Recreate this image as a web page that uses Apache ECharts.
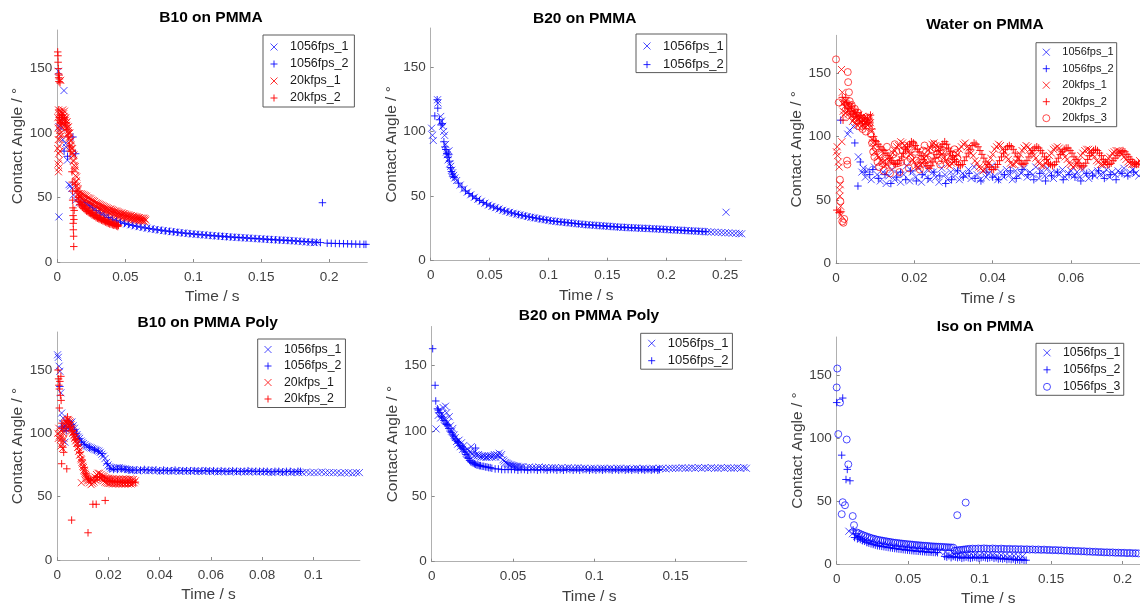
<!DOCTYPE html>
<html><head><meta charset="utf-8">
<script src="https://cdn.jsdelivr.net/npm/echarts@6/dist/echarts.min.js"></script>
<style>html,body{margin:0;padding:0;background:#fff}#c{width:1140px;height:608px}</style>
</head><body><div id="c"></div>
<script>
// ---------- tick / axis data ----------
const titles = ['B10 on PMMA','B20 on PMMA','Water on PMMA','B10 on PMMA Poly','B20 on PMMA Poly','Iso on PMMA'];
const xMax = [0.228, 0.264, 0.0776, 0.1182, 0.1937, 0.2121];
const xInterval = [0.05, 0.05, 0.02, 0.02, 0.05, 0.05];
const yMax = 180, yInterval = 50;
const xName = 'Time / s', yName = 'Contact Angle / °';

// ---------- B10 on PMMA ----------
const tl_1056fps_1 = [[0.0012,35],[0.0008,148],[0.0012,105],[0.003,104],[0.004,95],[0.0049,133],[0.0062,92],[0.0066,89],[0.0074,79],[0.0086,60],[0.0096,59],[0.0106,57],[0.0118,52],[0.0135,48],[0.016,46],[0.018,46],
[0.0195,47],[0.022,45],[0.0245,43],[0.027,41],[0.030,39],[0.033,37],[0.036,35.5],[0.039,34],[0.042,32.5],[0.045,31.5],[0.048,30.5],[0.051,29.5],[0.054,28.8],[0.057,28],[0.060,27.4],[0.063,26.8],[0.066,26.3],[0.069,25.7],[0.072,25.2],[0.075,24.8],[0.078,24.3],[0.081,24],[0.084,23.5],[0.087,23.2],[0.090,22.8],[0.093,22.5],[0.096,22.1],[0.099,21.8],[0.102,21.5],[0.105,21.3],[0.108,21],[0.111,20.7],[0.114,20.5],[0.117,20.2],[0.120,20],[0.123,19.8],[0.126,19.5],[0.129,19.3],[0.132,19.1],[0.135,18.9],[0.138,18.7],[0.141,18.5],[0.144,18.3],[0.147,18.1],[0.150,17.9],[0.153,17.7],[0.156,17.5],[0.159,17.3],[0.162,17.1],[0.165,17],[0.168,16.8],[0.171,16.6],[0.174,16.4],[0.177,16.2],[0.180,15.8],[0.183,15.5],[0.186,15.2],[0.189,15],[0.191,15.3]];
const tl_1056fps_2 = [[0.0115,97],[0.0135,84],[0.005,86],[0.0035,112],[0.0075,82],
[0.0205,46],[0.0235,44],[0.026,42],[0.0285,40],[0.0315,38],[0.0345,36.5],[0.0375,34.5],[0.0405,33.2],[0.0435,32],[0.0465,31],[0.0495,30],[0.0525,29.2],[0.0555,28.4],[0.0585,27.7],[0.0615,27.1],[0.0645,26.5],[0.0675,26],[0.0705,25.5],[0.0735,25],[0.0765,24.6],[0.0795,24.1],[0.0825,23.8],[0.0855,23.4],[0.0885,23],[0.0915,22.6],[0.0945,22.3],[0.0975,22],[0.1005,21.7],[0.1035,21.4],[0.1065,21.1],[0.1095,20.9],[0.1125,20.6],[0.1155,20.3],[0.1185,20.1],[0.1215,19.9],[0.1245,19.6],[0.1275,19.4],[0.1305,19.2],[0.1335,19],[0.1365,18.8],[0.1395,18.6],[0.1425,18.4],[0.1455,18.2],[0.1485,18],[0.1515,17.8],[0.1545,17.6],[0.1575,17.4],[0.1605,17.2],[0.1635,17],[0.1665,16.9],[0.1695,16.7],[0.1725,16.5],[0.1755,16.3],[0.1785,16.1],[0.1815,15.9],[0.1845,15.7],[0.1875,15.5],[0.1905,15.3],[0.1935,15.1],[0.195,46],[0.1985,14.6],[0.2015,14.5],[0.2045,14.4],[0.2075,14.3],[0.2105,14.2],[0.2135,14.1],[0.2165,14],[0.2195,13.9],[0.2225,13.8],[0.2255,13.7],[0.227,13.7]];
const tl_20kfps_1 = [[0.0003,88],[0.0004,112],[0.0005,76],[0.0006,104],[0.0007,95],[0.0008,70],[0.0009,118],[0.001,84],[0.0011,108],[0.0012,73],[0.0013,99],[0.0014,115],[0.0015,90],[0.0016,79],[0.0017,110],[0.0018,102],[0.0019,86],[0.002,117],[0.0021,95],[0.0022,106],[0.0023,112],[0.0024,100],[0.0025,141],[0.0026,108],[0.0027,114],[0.0028,98],[0.003,110],[0.0032,105],[0.0034,116],[0.0036,111],[0.0038,107],[0.004,118],[0.0042,112],[0.0044,108],[0.0046,115],[0.0048,110],
[0.005,113],[0.00525,117],[0.0055,111],[0.00575,106],[0.006,110],[0.00625,112],[0.0065,108],[0.00675,104],[0.007,106],[0.00725,109],[0.0075,104],[0.00775,100],[0.008,102],[0.00825,105],[0.0085,100],[0.00875,96],[0.009,97],[0.00925,100],[0.0095,94],[0.00975,90],[0.01,91],[0.01025,94],[0.0105,88],[0.01075,84],[0.011,85],[0.01125,88],[0.0115,82],[0.01175,78],[0.012,79],[0.01225,83],[0.0125,75],[0.01275,72],[0.013,71],[0.01325,74],[0.0135,67],[0.01375,62],[0.014,63],[0.01425,66],[0.0145,59],[0.01475,55],[0.015,56],[0.01525,57],[0.0155,53],[0.01575,49],[0.016,51],[0.01625,53],[0.0165,50.5],[0.017,51],
[0.0175,53],[0.018,49],[0.0185,52.5],[0.019,48.5],[0.0195,52],[0.02,48],[0.0205,51.5],[0.021,48],[0.0215,51],[0.022,47],[0.0225,50],[0.023,46.5],[0.0235,49.5],[0.024,46],[0.0245,49],[0.025,45],[0.0255,48],[0.026,44.5],[0.0265,47.5],[0.027,44],[0.0275,47],[0.028,43.5],[0.0285,46],[0.029,43],[0.0295,45.5],[0.03,42],[0.0305,45],[0.031,41.5],[0.0315,44.5],[0.032,41],[0.0325,44],[0.033,40.5],[0.0335,43.5],[0.034,40],[0.0345,43],[0.035,40],[0.0355,42.5],[0.036,39.5],[0.0365,42],[0.037,39],[0.0375,41.5],[0.038,38.5],[0.0385,41],[0.039,38],[0.0395,41],[0.04,38],[0.0405,40.5],[0.041,37.5],[0.0415,40],[0.042,37],[0.0425,39.5],[0.043,36.5],[0.0435,39.5],[0.044,36.5],[0.0445,39],[0.045,36],[0.0455,38.5],[0.046,35.5],[0.0465,38],[0.047,35.5],[0.0475,38],[0.048,35],[0.0485,37.5],[0.049,35],[0.0495,37.5],[0.05,34.5],[0.0505,37],[0.051,34.5],[0.0515,36.5],[0.052,34],[0.0525,36.5],[0.053,34],[0.0535,36],[0.054,33.5],[0.0545,36],[0.055,33.5],[0.0555,35.5],[0.056,33],[0.0565,35.5],[0.057,33],[0.0575,35],[0.058,32.5],[0.0585,35],[0.059,32.5],[0.0595,34.5],[0.06,32.5],[0.0605,34.5],[0.061,32],[0.0615,34],[0.062,32],[0.0625,34],[0.063,32],[0.0635,34],[0.064,31.5],[0.0645,33.5],[0.065,32.5]];
const tl_20kfps_2 = [[0.0003,163],[0.0005,160],[0.0006,155],[0.0008,150],[0.0009,146],[0.001,143],[0.0012,140],[0.0014,145],[0.0016,142],[0.002,139],[0.001,118],[0.0015,112],[0.0025,108],[0.0035,114],
[0.005,112],[0.006,108],[0.007,103],[0.008,97],[0.009,90],[0.0095,86],[0.0108,70],[0.011,62],[0.0112,55],[0.0113,48],[0.0115,42],[0.0116,36],[0.0117,30],[0.0118,25],[0.012,20],[0.0121,12],[0.0122,33],[0.0124,40],[0.0135,60],[0.0145,55],[0.0155,50],
[0.016,47],[0.0165,44.5],[0.017,46],[0.0175,43.5],[0.018,45],[0.0185,42.5],[0.019,44],[0.0195,41.5],[0.02,43],[0.0205,40.5],[0.021,42],[0.0215,39.5],[0.022,41],[0.0225,39],[0.023,40],[0.0235,38],[0.024,39.5],[0.0245,37.5],[0.025,38.5],[0.0255,36.5],[0.026,38],[0.0265,36],[0.027,37],[0.0275,35.5],[0.028,36.5],[0.0285,34.5],[0.029,36],[0.0295,34],[0.03,35],[0.0305,33.5],[0.031,34.5],[0.0315,33],[0.032,34],[0.0325,32.5],[0.033,33.5],[0.0335,32],[0.034,33],[0.0345,31.5],[0.035,32.5],[0.0355,31],[0.036,32],[0.0365,30.5],[0.037,31.5],[0.0375,30],[0.038,31],[0.0385,29.5],[0.039,31],[0.0395,29.5],[0.04,30.5],[0.0405,29],[0.041,30],[0.0415,28.5],[0.042,29.5],[0.0425,28.5],[0.043,29.5],[0.0435,28],[0.044,29],[0.0445,27.5],[0.045,28.5]];

// ---------- B20 on PMMA ----------
const tm_1056fps_1 = [[0.0008,102.5],[0.0015,97],[0.0022,93],[0.0058,124.5],[0.0062,122],[0.0085,111.6],[0.0092,108],[0.0102,104],[0.011,100],[0.0118,97],[0.0127,90],[0.0133,84],[0.014,82],[0.0148,78],[0.0155,85],[0.0162,75],[0.017,73],[0.0178,70],[0.0186,68],[0.0195,66],[0.0205,64],
[0.022,62],[0.025,58.5],[0.028,55.5],[0.031,53],[0.034,51],[0.037,49],[0.040,47.5],[0.043,46],[0.046,44.5],[0.049,43],[0.052,42],[0.055,41],[0.058,40],[0.061,39],[0.064,38.2],[0.067,37.4],[0.070,36.7],[0.073,36],[0.076,35.4],[0.079,34.8],[0.082,34.2],[0.085,33.6],[0.088,33.1],[0.091,32.6],[0.094,32.1],[0.097,31.7],[0.100,31.2],[0.103,30.8],[0.106,30.4],[0.109,30.1],[0.112,29.8],[0.115,29.5],[0.118,29.2],[0.121,28.9],[0.124,28.6],[0.127,28.3],[0.130,28],[0.133,27.8],[0.136,27.6],[0.139,27.4],[0.142,27.2],[0.145,27],[0.148,26.8],[0.151,26.6],[0.154,26.4],[0.157,26.2],[0.160,26],[0.163,25.8],[0.166,25.7],[0.169,25.5],[0.172,25.4],[0.175,25.3],[0.178,25.1],[0.181,25],[0.184,24.9],[0.187,24.8],[0.190,24.6],[0.193,24.5],[0.196,24.3],[0.199,24.2],[0.202,24],[0.205,23.9],[0.208,23.7],[0.211,23.6],[0.214,23.4],[0.217,23.3],[0.220,23.1],[0.223,23],[0.226,22.8],[0.229,22.7],[0.232,22.5],[0.235,22.4],[0.238,22.2],[0.241,22.1],[0.244,21.9],[0.247,21.8],[0.2507,37.5],[0.250,21.6],[0.253,21.5],[0.256,21.3],[0.259,21.2],[0.262,21],[0.264,20.8]];
const tm_1056fps_2 = [[0.0035,112],[0.0055,124.5],[0.006,118],[0.0075,109],[0.0088,105],[0.0098,106],[0.0112,92],[0.012,88],[0.0128,86],[0.0136,83],[0.0145,80],[0.0152,82],[0.016,77],[0.0168,72],[0.0176,69],[0.0184,67],[0.019,65],[0.020,64.5],
[0.0235,60],[0.0265,57],[0.0295,54],[0.0325,52],[0.0355,50],[0.0385,48],[0.0415,46.5],[0.0445,45],[0.0475,43.8],[0.0505,42.5],[0.0535,41.5],[0.0565,40.5],[0.0595,39.5],[0.0625,38.6],[0.0655,37.8],[0.0685,37],[0.0715,36.3],[0.0745,35.7],[0.0775,35.1],[0.0805,34.5],[0.0835,33.9],[0.0865,33.4],[0.0895,32.9],[0.0925,32.4],[0.0955,31.9],[0.0985,31.5],[0.1015,31],[0.1045,30.6],[0.1075,30.3],[0.1105,30],[0.1135,29.7],[0.1165,29.4],[0.1195,29.1],[0.1225,28.8],[0.1255,28.5],[0.1285,28.2],[0.1315,27.9],[0.1345,27.7],[0.1375,27.5],[0.1405,27.3],[0.1435,27.1],[0.1465,26.9],[0.1495,26.7],[0.1525,26.5],[0.1555,26.3],[0.1585,26.1],[0.1615,25.9],[0.1645,25.8],[0.1675,25.6],[0.1705,25.5],[0.1735,25.4],[0.1765,25.2],[0.1795,25.1],[0.1825,25],[0.1855,24.9],[0.1885,24.7],[0.1915,24.6],[0.1945,24.4],[0.1975,24.3],[0.2005,24.1],[0.2035,24],[0.2065,23.8],[0.2095,23.7],[0.2125,23.5],[0.2155,23.4],[0.2185,23.2],[0.2215,23.1],[0.2245,22.9],[0.2275,22.8],[0.2305,22.6],[0.2335,22.5]];

// ---------- Water on PMMA ----------
const tr_1056fps_1 = [[0.003,102],[0.0035,105],[0.0045,108],[0.0057,84],[0.0066,72],[0.007,75],[0.0075,68],[0.0082,74],[0.009,66],[0.0098,76],[0.0105,70],[0.0113,65],[0.012,72],[0.0128,63],[0.0135,69],[0.0143,74],[0.015,66],[0.0158,71],[0.0165,64],[0.0173,70],[0.018,77],[0.0188,65],[0.0195,72],[0.0203,68],[0.021,75],[0.0218,64],[0.0225,70],[0.0233,74],[0.024,66],[0.0248,72],[0.0255,68],[0.0263,64],[0.027,75],[0.0278,70],[0.0285,66],[0.0293,72],[0.03,68],[0.0308,73],[0.0315,66],[0.0323,71],[0.033,69],[0.0338,74],[0.0345,67],[0.0353,76],[0.036,70],[0.0368,66],[0.0375,73],[0.0383,68],[0.039,71],[0.0398,77],[0.0405,69],[0.0413,66],[0.042,72],[0.0428,68],[0.0435,74],[0.0443,70],[0.045,66],[0.0458,73],[0.0465,69],[0.0473,71],[0.048,75],[0.0488,68],[0.0495,72],[0.0503,70],[0.051,76],[0.0518,67],[0.0525,73],[0.0533,69],[0.054,75],[0.0548,71],[0.0555,67],[0.0563,72],[0.057,70],[0.0578,74],[0.0585,68],[0.0593,71],[0.06,73],[0.0608,69],[0.0615,72],[0.0623,68],[0.063,74],[0.0638,70],[0.0645,67],[0.0653,72],[0.066,69],[0.0668,73],[0.0675,70],[0.0683,71],[0.069,74],[0.0698,68],[0.0705,72],[0.0713,70],[0.072,73],[0.0728,71],[0.0735,75],[0.0743,70],[0.075,72],[0.0758,74],[0.0765,71],[0.0773,69]];
const tr_1056fps_2 = [[0.0012,113],[0.0048,95],[0.0056,61],[0.0062,80],[0.0074,72],[0.0086,70],[0.0094,74],[0.0108,67],[0.0125,70],[0.014,63],[0.0155,68],[0.0165,72],[0.0178,66],[0.019,73],[0.0205,65],[0.022,70],[0.0235,67],[0.025,72],[0.0265,69],[0.028,63],[0.0295,66],[0.031,73],[0.0325,68],[0.034,71],[0.0355,67],[0.037,65],[0.0385,72],[0.04,68],[0.0415,66],[0.043,70],[0.0445,73],[0.046,67],[0.0475,74],[0.049,70],[0.0505,66],[0.052,71],[0.0535,65],[0.055,69],[0.0565,72],[0.058,66],[0.0595,70],[0.061,68],[0.0625,65],[0.064,71],[0.0655,69],[0.067,73],[0.0685,67],[0.07,70],[0.0715,66],[0.073,71],[0.0745,69],[0.076,72]];
const tr_20kfps_1 = [[0.0001,88],[0.0003,92],[0.0004,85],[0.0006,80],[0.0008,76],[0.0009,58],[0.001,53],[0.0011,62],[0.0012,45],[0.0013,38],[0.0014,153],[0.0015,96],[0.0016,135],[0.0017,126],[0.0018,120],[0.002,117],[0.0022,124],[0.0024,119],[0.0026,128],[0.0028,122],[0.003,125],[0.0032,118],[0.0034,121],[0.0036,115],[0.0038,124],[0.004,117],[0.0042,112],[0.0044,120],[0.0046,114],[0.0048,118],[0.005,111],[0.0052,116],[0.0054,109],[0.0056,114],[0.0058,117],[0.006,110],[0.0062,115],[0.0064,112],[0.0066,108],[0.0068,116],[0.007,110],[0.0072,113],[0.0074,107],[0.0076,111],[0.0078,115],[0.008,109],[0.0082,114],[0.0084,110],[0.0086,116],[0.0088,111],[0.009,104],[0.0092,98],[0.0094,95],[0.0096,92],
[0.0100,88],[0.0105,85],[0.0110,84],[0.0115,81],[0.0120,80],[0.0125,77],[0.0130,78],[0.0135,81],[0.0140,83],[0.0145,87],[0.0150,89],[0.0155,92],[0.0160,93],[0.0165,96],[0.0170,95],[0.0175,93],[0.0180,91],[0.0185,88],[0.0190,86],[0.0195,82],[0.0200,80],[0.0205,77],[0.0210,76],[0.0215,78],[0.0220,79],[0.0225,83],[0.0230,85],[0.0235,89],[0.0240,91],[0.0245,94],[0.0250,95],[0.0255,93],[0.0260,92],[0.0265,88],[0.0270,86],[0.0275,83],[0.0280,81],[0.0285,78],[0.0290,77],[0.0295,79],[0.0300,80],[0.0305,84],[0.0310,86],[0.0315,90],[0.0320,92],[0.0325,94],[0.0330,95],[0.0335,92],[0.0340,91],[0.0345,87],[0.0350,85],[0.0355,81],[0.0360,79],[0.0365,76],[0.0370,75],[0.0375,73],[0.0380,74],[0.0385,77],[0.0390,79],[0.0395,83],[0.0400,86],[0.0405,90],[0.0410,92],[0.0415,94],[0.0420,93],[0.0425,90],[0.0430,88],[0.0435,84],[0.0440,82],[0.0445,79],[0.0450,78],[0.0455,78],[0.0460,80],[0.0465,83],[0.0470,86],[0.0475,89],[0.0480,91],[0.0485,93],[0.0490,92],[0.0495,90],[0.0500,88],[0.0505,85],[0.0510,83],[0.0515,80],[0.0520,79],[0.0525,77],[0.0530,77],[0.0535,79],[0.0540,81],[0.0545,85],[0.0550,87],[0.0555,90],[0.0560,91],[0.0565,92],[0.0570,91],[0.0575,88],[0.0580,87],[0.0585,84],[0.0590,82],[0.0595,79],[0.0600,78],[0.0605,76],[0.0610,77],[0.0615,79],[0.0620,81],[0.0625,85],[0.0630,87],[0.0635,89],[0.0640,90],[0.0645,90],[0.0650,89],[0.0655,86],[0.0660,84],[0.0665,81],[0.0670,80],[0.0675,78],[0.0680,78],[0.0685,79],[0.0690,80],[0.0695,83],[0.0700,84],[0.0705,87],[0.0710,88],[0.0715,89],[0.0720,89],[0.0725,88],[0.0730,86],[0.0735,84],[0.0740,82],[0.0745,80],[0.0750,79],[0.0755,78],[0.0760,78],[0.0765,78],[0.0770,79],[0.0775,81]];
const tr_20kfps_2 = [[0.0002,42],[0.0008,40],[0.0012,41],[0.0016,131],[0.0018,113],[0.002,128],[0.0022,125],[0.0025,131],[0.0028,127],[0.003,122],[0.0033,126],[0.0036,120],[0.004,124],[0.0044,118],[0.0048,121],[0.0052,116],[0.0056,119],[0.006,113],[0.0064,117],[0.0068,112],[0.0072,115],[0.0076,110],[0.008,114],[0.0084,111],[0.0088,117],[0.0092,106],[0.0096,100],[0.01,97],
[0.01025,96],[0.01075,94],[0.01125,92],[0.01175,90],[0.01225,89],[0.01275,87],[0.01325,85],[0.01375,83],[0.01425,81],[0.01475,79],[0.01525,78],[0.01575,79],[0.01625,81],[0.01675,84],[0.01725,87],[0.01775,90],[0.01825,92],[0.01875,94],[0.01925,96],[0.01975,95],[0.02025,93],[0.02075,90],[0.02125,88],[0.02175,85],[0.02225,82],[0.02275,79],[0.02325,77],[0.02375,75],[0.02425,77],[0.02475,80],[0.02525,83],[0.02575,86],[0.02625,89],[0.02675,92],[0.02725,94],[0.02775,96],[0.02825,94],[0.02875,91],[0.02925,88],[0.02975,85],[0.03025,82],[0.03075,80],[0.03125,78],[0.03175,77],[0.03225,78],[0.03275,81],[0.03325,84],[0.03375,87],[0.03425,90],[0.03475,93],[0.03525,95],[0.03575,94],[0.03625,92],[0.03675,89],[0.03725,86],[0.03775,83],[0.03825,80],[0.03875,78],[0.03925,76],[0.03975,74],[0.04025,74],[0.04075,76],[0.04125,78],[0.04175,81],[0.04225,84],[0.04275,87],[0.04325,90],[0.04375,92],[0.04425,93],[0.04475,92],[0.04525,90],[0.04575,87],[0.04625,84],[0.04675,81],[0.04725,79],[0.04775,78],[0.04825,79],[0.04875,81],[0.04925,84],[0.04975,87],[0.05025,89],[0.05075,91],[0.05125,92],[0.05175,91],[0.05225,89],[0.05275,87],[0.05325,84],[0.05375,82],[0.05425,79],[0.05475,78],[0.05525,77],[0.05575,78],[0.05625,80],[0.05675,83],[0.05725,86],[0.05775,88],[0.05825,90],[0.05875,91],[0.05925,91],[0.05975,89],[0.06025,87],[0.06075,84],[0.06125,82],[0.06175,79],[0.06225,77],[0.06275,76],[0.06325,77],[0.06375,79],[0.06425,82],[0.06475,85],[0.06525,87],[0.06575,89],[0.06625,90],[0.06675,89],[0.06725,87],[0.06775,85],[0.06825,82],[0.06875,80],[0.06925,78],[0.06975,78],[0.07025,79],[0.07075,81],[0.07125,83],[0.07175,85],[0.07225,87],[0.07275,88],[0.07325,89],[0.07375,88],[0.07425,86],[0.07475,84],[0.07525,82],[0.07575,80],[0.07625,79],[0.07675,78],[0.07725,79]];
const tr_20kfps_3 = [[0,161],[0.0007,127],[0.001,66],[0.0011,49],[0.0016,33],[0.0019,32],[0.0021,35],[0.0028,81],[0.0029,78],[0.003,151],[0.0031,143],[0.0033,135],[0.0035,128],[0.0038,120],[0.004,125],[0.0044,118],[0.0048,122],[0.0052,113],[0.0056,119],[0.006,108],[0.0064,114],[0.0068,106],[0.0072,112],[0.0076,104],[0.008,109],[0.0083,115],[0.0086,111],[0.0089,102],[0.0092,95],[0.0095,88],[0.0098,84],[0.0102,91],[0.0106,80],[0.011,76],[0.0114,86],[0.0118,79],[0.0122,73],[0.0126,84],[0.013,92],[0.0134,80],[0.0138,71],[0.0142,77],[0.0146,86],[0.015,94],[0.0154,88],[0.0158,79],[0.0162,72],[0.0166,80],[0.017,89],[0.0174,93],[0.0178,86],[0.0182,80],[0.0186,75],[0.019,83],[0.0194,90],[0.0198,94],[0.0202,88],[0.0206,81],[0.021,77],[0.0214,74],[0.0218,82],[0.0222,89],[0.0226,93],[0.023,88],[0.0234,82],[0.0238,78],[0.0242,84],[0.0246,90],[0.025,94],[0.0254,91],[0.0258,86],[0.0262,81],[0.0266,78],[0.027,83],[0.0274,89],[0.0278,92],[0.0282,88],[0.0286,84],[0.029,80],[0.0294,82],[0.0298,86],[0.0302,90],[0.0306,87],[0.031,83]];

// ---------- B10 on PMMA Poly ----------
const bl_1056fps_1 = [[0.0001,162],[0.0004,160],[0.0007,153],[0.001,149],[0.0014,132],[0.0017,116],[0.002,108],[0.0023,112],[0.0026,105],[0.003,93],[0.0034,103],[0.0038,108],[0.0042,104],[0.0047,106],[0.0052,108],[0.0057,109],[0.0062,106],[0.0067,104],[0.0072,101],[0.0077,99],[0.0082,97],[0.0087,96],[0.0092,94],[0.0097,93],[0.0102,92],[0.0108,91],[0.0114,90],[0.012,89.5],[0.0126,89],[0.0132,88.5],[0.0138,88],[0.0144,87.5],[0.015,87],[0.0156,86.5],[0.0162,86],[0.0168,85],[0.0174,83.5],[0.018,82],[0.0186,80],[0.0192,77],[0.0198,75],[0.0204,73.5],[0.021,72.5],[0.0218,72],[0.0226,72.5],[0.0234,73],[0.0242,73],[0.025,72.5],[0.0258,72],[0.0266,72],[0.0274,71.5],[0.0282,71.5],[0.029,71],
[0.0298,71],[0.0313,70.5],[0.0328,71],[0.0343,70.5],[0.0358,70.5],[0.0373,71],[0.0388,70.5],[0.0403,70],[0.0418,70.5],[0.0433,70.5],[0.0448,70],[0.0463,70.5],[0.0478,70],[0.0493,70.5],[0.0508,70],[0.0523,70],[0.0538,70.5],[0.0553,70],[0.0568,70],[0.0583,70.5],[0.0598,70],[0.0613,70],[0.0628,69.5],[0.0643,70],[0.0658,70],[0.0673,69.5],[0.0688,70],[0.0703,69.5],[0.0718,70],[0.0733,69.5],[0.0748,69.5],[0.0763,70],[0.0778,69.5],[0.0793,69.5],[0.0808,69.5],[0.0823,69.5],[0.0838,69],[0.0853,69.5],[0.0868,69.5],[0.0883,69],[0.0898,69.5],[0.0913,69],[0.0928,69.5],[0.0943,69],[0.0958,69],[0.0973,69.5],[0.0988,69],[0.1003,69],[0.1018,69],[0.1033,69.5],[0.1048,69],[0.1063,69],[0.1078,69],[0.1093,69],[0.1108,68.5],[0.1123,69],[0.1138,69],[0.1153,68.5],[0.1168,69],[0.118,69]];
const bl_1056fps_2 = [[0.001,137],[0.0017,105],[0.0026,104],[0.0035,102],[0.0045,105],[0.0055,107],[0.0065,103],[0.0075,100],[0.0085,96],[0.0095,93],[0.0105,91],[0.0125,89],[0.0145,87],[0.016,86],[0.0175,84],[0.0195,76],
[0.0205,72],[0.022,71.5],[0.0235,71.5],[0.025,72],[0.0265,71.5],[0.028,71],[0.0295,71],[0.031,71],[0.0325,71],[0.034,71.5],[0.0355,71],[0.037,71],[0.0385,71],[0.04,70.5],[0.0415,71],[0.043,70.5],[0.0445,70.5],[0.046,71],[0.0475,70.5],[0.049,70.5],[0.0505,70.5],[0.052,70.5],[0.0535,70.5],[0.055,70],[0.0565,70.5],[0.058,70.5],[0.0595,70],[0.061,70.5],[0.0625,70],[0.064,70.5],[0.0655,70],[0.067,70],[0.0685,70.5],[0.07,70],[0.0715,70],[0.073,70],[0.0745,70.5],[0.076,70],[0.0775,70],[0.079,70],[0.0805,70],[0.082,70],[0.0835,69.5],[0.085,70],[0.0865,70],[0.088,69.5],[0.0895,70],[0.091,70],[0.0925,69.5],[0.094,70],[0.095,70]];
const bl_20kfps_1 = [[0.0002,100],[0.0004,96],[0.0006,104],[0.0008,98],[0.001,101],[0.0012,95],[0.0014,90],[0.0016,97],[0.0018,92],[0.002,88],[0.0022,94],[0.0024,100],[0.0026,96],[0.0028,102],[0.003,107],[0.0032,104],[0.0034,109],[0.0036,106],[0.0038,110],[0.004,107],[0.0042,111],[0.0044,108],[0.0046,110],[0.0048,106],[0.005,109],[0.0052,104],[0.0054,107],[0.0056,102],[0.0058,104],[0.006,100],[0.0062,101],[0.0064,98],[0.0066,99],[0.0068,96],[0.007,97],[0.0072,94],[0.0074,95],[0.0076,92],[0.0078,92],[0.008,89],[0.0082,89],[0.0084,86],[0.0086,86],[0.0088,83],[0.009,83],[0.0092,80],[0.0094,79],[0.0096,77],[0.0098,76],[0.01,74],[0.0102,73],[0.0104,71],[0.0106,70],[0.0108,68.5],[0.011,67.5],[0.0112,66.5],[0.0114,65.5],[0.0116,64.5],[0.0118,64],[0.012,63],[0.0123,62.5],[0.0126,61],[0.0129,63.5],[0.0132,59.5],[0.0135,63],[0.0138,60.5],[0.0141,64],[0.0144,61.5],[0.0147,65.5],[0.015,63],[0.0153,67.5],[0.0156,64.5],[0.0159,68.5],[0.0162,65.5],[0.0165,68.5],[0.0168,64.5],[0.0171,67.5],[0.0174,63.5],[0.0177,66.5],[0.018,62.5],[0.0183,66],[0.0186,61.5],[0.0189,65],[0.0192,61],[0.0195,64.5],[0.0198,60.5],[0.0201,64.5],[0.0204,60.5],[0.0207,64],[0.021,60.5],[0.0213,64],[0.0216,60],[0.0219,64],[0.0222,60.5],[0.0225,63.5],[0.0228,60],[0.0231,64],[0.0234,60.5],[0.0237,63.5],[0.024,60],[0.0243,64],[0.0246,60.5],[0.0249,63.5],[0.0252,60],[0.0255,64],[0.0258,60.5],[0.0261,63.5],[0.0264,60],[0.0267,64],[0.027,60.5],[0.0273,63.5],[0.0276,60],[0.0279,63.5],[0.0282,60.5],[0.0285,64],[0.0288,60],[0.0291,63.5],[0.0294,60.5],[0.0297,63.5],[0.03,61],[0.0305,62.5],[0.0094,61]];
const bl_20kfps_2 = [[0.0003,150],[0.0005,143],[0.0006,138],[0.0008,135],[0.001,141],[0.0012,130],[0.0014,145],[0.0015,126],[0.0008,120],[0.0018,108],[0.002,104],[0.0022,89],[0.0017,76],[0.0025,85],[0.0037,72],[0.0035,110],[0.004,113],[0.0045,109],[0.005,105],[0.0056,31.5],[0.0058,102],[0.0065,99],[0.0072,95],[0.008,90],[0.0088,85],[0.0096,79],[0.0104,73],[0.0112,68],[0.012,21.5],[0.0122,64],[0.013,63],[0.0139,44],[0.0152,44],[0.0148,63],[0.0156,65],[0.0165,66],[0.0174,65],[0.0187,47],[0.0184,64],[0.0195,63],[0.0205,62],[0.0215,62],[0.0225,61.5],[0.0235,62],[0.0245,61.5],[0.0255,61],[0.0265,61.5],[0.0275,61],[0.0285,61.5],[0.0295,61],[0.0305,61.5]];

// ---------- B20 on PMMA Poly ----------
const bm_1056fps_1 = [[0.0027,101.6],[0.004,112],[0.0047,116],[0.0055,110],[0.0063,113],[0.007,118],[0.0078,109],[0.0085,119],[0.0092,114],[0.01,107],[0.0108,111],[0.0115,104],[0.0123,100],[0.013,102],[0.0138,97],[0.0145,95],[0.0153,92],[0.016,90],[0.0168,93],[0.0175,88],[0.0183,91],[0.019,86],[0.0198,89],[0.0205,85],[0.0213,83],[0.022,86],[0.0228,82],[0.0235,84],[0.0243,88],[0.025,83],[0.0258,81],[0.0265,84],[0.0273,82],[0.028,81],[0.0288,82],[0.0295,81],[0.0303,80],[0.031,81],[0.0318,80],[0.0325,81],[0.0333,80],[0.034,80],[0.0348,81],[0.0355,80],[0.0363,81],[0.037,80],[0.0378,81],[0.0385,82],[0.0393,80],[0.04,82],[0.0408,81],[0.0415,83],[0.0423,80],[0.043,82],[0.0438,78],[0.0445,77],[0.0453,76],[0.046,75.5],[0.0468,75],[0.0475,74.5],[0.0483,74],[0.049,74],[0.0498,73.5],[0.0505,73.5],[0.0513,73],[0.052,73],[0.053,73],[0.054,72.5],[0.055,72.5],
[0.056,72.5],[0.058,72],[0.060,72.5],[0.062,72],[0.064,72],[0.066,72.5],[0.068,72],[0.070,72],[0.072,71.5],[0.074,72],[0.076,72],[0.078,71.5],[0.080,72],[0.082,71.5],[0.084,72],[0.086,71.5],[0.088,71.5],[0.090,72],[0.092,71.5],[0.094,71.5],[0.096,71],[0.098,71.5],[0.100,71.5],[0.102,71],[0.104,71.5],[0.106,71.5],[0.108,71],[0.110,71.5],[0.112,71],[0.114,71.5],[0.116,71.5],[0.118,71],[0.120,71.5],[0.122,71],[0.124,71],[0.126,71.5],[0.128,71],[0.130,71.5],[0.132,71],[0.134,71],[0.136,71.5],[0.138,71],[0.140,71.5],[0.142,71.5],[0.144,71],[0.146,71.5],[0.148,71.5],[0.150,71.5],[0.152,71.5],[0.154,72],[0.156,71.5],[0.158,71.5],[0.160,72],[0.162,71.5],[0.164,72],[0.166,71.5],[0.168,72],[0.170,71.5],[0.172,72],[0.174,71.5],[0.176,71.5],[0.178,72],[0.180,71.5],[0.182,72],[0.184,71.5],[0.186,71.5],[0.188,72],[0.190,71.5],[0.192,72],[0.1935,71.5]];
const bm_1056fps_2 = [[0.0006,163],[0.0021,135],[0.0025,123],[0.0035,117],[0.0041,116],[0.005,114],[0.006,111],[0.0068,110],[0.0075,108],[0.0083,106],[0.009,105],[0.0098,104],[0.0105,102],[0.0113,100],[0.012,99],[0.0128,97],[0.0135,96],[0.0143,94],[0.015,93],[0.0158,92],[0.0165,91],[0.0173,89],[0.018,88],[0.0188,87],[0.0195,86],[0.0203,84],[0.021,82],[0.0218,80],[0.0225,79],[0.0233,77.5],[0.024,76.5],[0.0248,76],[0.0255,75.5],[0.027,87],[0.0263,75],[0.027,74.5],[0.0278,74],[0.0285,74],[0.0293,73.5],[0.03,73.5],[0.031,73],[0.032,73],[0.033,72.5],[0.034,72.5],[0.035,72],[0.036,72],
[0.037,71.5],[0.039,71],[0.041,71],[0.043,70.5],[0.045,70.5],[0.047,70.5],[0.049,70.5],[0.051,70.5],[0.053,70],[0.055,70.5],[0.057,70.5],[0.059,70],[0.061,70.5],[0.063,70.5],[0.065,70],[0.067,70.5],[0.069,70.5],[0.071,70],[0.073,70.5],[0.075,70.5],[0.077,70],[0.079,70.5],[0.081,70],[0.083,70.5],[0.085,70.5],[0.087,70],[0.089,70.5],[0.091,70],[0.093,70.5],[0.095,70.5],[0.097,70],[0.099,70.5],[0.101,70],[0.103,70.5],[0.105,70],[0.107,70.5],[0.109,70.5],[0.111,70],[0.113,70.5],[0.115,70],[0.117,70.5],[0.119,70],[0.121,70.5],[0.123,70],[0.125,70.5],[0.127,70],[0.129,70.5],[0.131,70],[0.133,70.5],[0.135,70],[0.137,70.5],[0.139,70],[0.140,70.5]];

// ---------- Iso on PMMA ----------
const br_1056fps_1 = [[0.0085,26],[0.011,24],[0.014,22],[0.017,20],[0.02,19],[0.024,17.5],[0.028,16.5],[0.032,15.5],[0.036,15],[0.04,14],[0.044,13.5],[0.048,13],[0.052,12.5],[0.056,12],[0.06,11.5],[0.064,11],[0.068,10.5],[0.072,10],[0.076,9.5],[0.079,7],[0.082,8],[0.085,7.5],[0.088,8],[0.091,7.5],[0.094,8],[0.097,7.5],[0.1,7],[0.103,7.5],[0.106,7],[0.109,7],[0.112,6.5],[0.115,7],[0.118,6.5],[0.121,6],[0.124,6.5],[0.127,6],[0.13,6]];
const br_1056fps_2 = [[0,128],[0.0042,131.6],[0.0035,86.3],[0.0065,67],[0.0074,75],[0.0093,66],
[0.0115,27],[0.0125,21],[0.0135,24],[0.0145,20],[0.0155,21.5],[0.0165,19.5],[0.018,18.5],[0.0195,18],[0.021,17],[0.0225,16.5],[0.024,16],[0.0255,15.5],[0.027,15],[0.0285,14.5],[0.03,14.3],[0.0315,14],[0.033,13.7],[0.0345,13.4],[0.036,13.1],[0.0375,12.8],[0.039,12.6],[0.0405,12.3],[0.042,12.1],[0.0435,11.8],[0.045,11.6],[0.0465,11.4],[0.048,11.2],[0.0495,11],[0.051,10.8],[0.0525,10.6],[0.054,10.4],[0.0555,10.3],[0.057,10.1],[0.0585,10],[0.06,9.8],[0.0615,9.7],[0.063,9.5],[0.0645,9.4],[0.066,9.3],[0.0675,9.2],[0.069,9.1],[0.0705,9],
[0.0755,6],[0.077,5.5],[0.0785,6.5],[0.08,5],[0.0815,6],[0.083,5.5],[0.0845,5],[0.086,5.5],[0.0875,4.5],[0.089,5],[0.0905,5.5],[0.092,5],[0.0935,4.5],[0.095,5],[0.0965,5.5],[0.098,5],[0.0995,4.5],[0.101,5],[0.1025,5.5],[0.104,5],[0.1055,4.5],[0.107,5],[0.1085,5.5],[0.11,4.5],[0.1115,5],[0.113,4],[0.1145,4.5],[0.116,4],[0.1175,4.5],[0.119,3.5],[0.1205,4],[0.122,3.5],[0.1235,4],[0.125,3],[0.1265,3.5],[0.128,3],[0.1295,3.5],[0.131,3],[0.1325,3]];
const br_1056fps_3 = [[0,140],[0.0004,155],[0.0023,128],[0.0011,103],[0.0035,39.5],[0.0042,49],[0.0058,46.6],[0.007,98.7],[0.0081,79],[0.0112,38],[0.0121,30.8],
[0.014,25],[0.0155,24.3],[0.017,23.5],[0.0185,22.8],[0.02,22.2],[0.0215,21.5],[0.023,21],[0.0245,20.4],[0.026,20],[0.0275,19.5],[0.029,19.1],[0.0305,18.8],[0.032,18.5],[0.0335,18.2],[0.035,17.9],[0.0365,17.6],[0.038,17.3],[0.0395,17],[0.041,16.8],[0.0425,16.6],[0.044,16.4],[0.0455,16.2],[0.047,16],[0.0485,15.8],[0.05,15.6],[0.0515,15.5],[0.053,15.3],[0.0545,15.1],[0.056,15],[0.0575,14.8],[0.059,14.7],[0.0605,14.5],[0.062,14.4],[0.0635,14.3],[0.065,14.1],[0.0665,14],[0.068,13.9],[0.0695,13.8],[0.071,13.7],[0.0725,13.6],[0.074,13.5],[0.0755,13.4],[0.077,13.3],[0.0785,13.2],[0.08,13.1],[0.0815,13],[0.0825,10.5],[0.084,10.8],[0.0843,38.7],[0.0855,11],[0.087,11.2],[0.0885,11.4],[0.09,11.6],[0.0902,48.7],[0.0915,11.8],
[0.093,12],[0.095,12.2],[0.097,12],[0.099,12.3],[0.101,12.1],[0.103,12.4],[0.105,12.2],[0.107,12],[0.109,12.3],[0.111,12.1],[0.113,11.9],[0.115,12.2],[0.117,12],[0.119,11.8],[0.121,12],[0.123,11.7],[0.125,11.9],[0.127,11.6],[0.129,11.8],[0.131,11.5],[0.133,11.7],[0.135,11.4],[0.137,11.6],[0.139,11.3],[0.141,11.5],[0.143,11.2],[0.145,11.4],[0.147,11.1],[0.149,11.2],[0.151,10.9],[0.153,11.1],[0.155,10.8],[0.157,10.9],[0.159,10.6],[0.161,10.7],[0.163,10.4],[0.165,10.5],[0.167,10.2],[0.169,10.3],[0.171,10],[0.173,10.1],[0.175,9.8],[0.177,9.9],[0.179,9.6],[0.181,9.7],[0.183,9.4],[0.185,9.5],[0.187,9.2],[0.189,9.3],[0.191,9.1],[0.193,9.2],[0.195,8.9],[0.197,9],[0.199,8.8],[0.201,8.9],[0.203,8.6],[0.205,8.8],[0.207,8.5],[0.209,8.6],[0.211,8.4]];

// ---------- layout (positions / styles, not data) ----------
const FONT = '"Liberation Sans", Arial, sans-serif';
const grids = [
  {left:57.3, top:30, width:310, height:232},
  {left:430.7, top:28, width:311, height:232.7},
  {left:836, top:35.3, width:304, height:228},
  {left:57.3, top:332, width:302.6, height:228},
  {left:431.7, top:326.5, width:315, height:235.2},
  {left:836.7, top:337, width:303.3, height:228}
];
const titlePos = [[211,18],[584.7,18.3],[985,25],[207.8,322.7],[589,316],[985.3,326.7]];
const legendCfg = [
  {left:263, top:35, padding:[5,6,2,7], itemGap:3, fontSize:12.5, lineHeight:14},
  {left:636, top:34, padding:[5,3,1,7], itemGap:4.6, fontSize:13, lineHeight:14},
  {left:1036, top:42.7, padding:[3,3,2,6.3], itemGap:3.5, fontSize:11, lineHeight:13},
  {left:257.7, top:339, padding:[3.5,4,1.5,6.3], itemGap:2.5, fontSize:12.3, lineHeight:14},
  {left:640.7, top:333.3, padding:[3,4,1.5,7], itemGap:3.4, fontSize:13, lineHeight:14},
  {left:1036, top:343.3, padding:[2.5,3.3,1.5,7], itemGap:3, fontSize:12.3, lineHeight:14}
];

const BLUE = '#0000ff', RED = '#ff0000';
const SYM = {
  x: {symbol:'path://M0 0L10 10M10 0L0 10', size:7},
  p: {symbol:'path://M5 0L5 10M0 5L10 5', size:7.5},
  o: {symbol:'circle', size:7}
};
function sc(name, data, gi, kind, color, op) {
  return {
    type:'scatter', name, data, xAxisIndex:gi, yAxisIndex:gi,
    symbol: SYM[kind].symbol, symbolSize: SYM[kind].size,
    itemStyle:{color:'rgba(0,0,0,0)', borderColor:color, borderWidth:1, opacity:op},
    emphasis:{disabled:true}, silent:true, animation:false
  };
}

const seriesList = [
  sc('1056fps_1', tl_1056fps_1, 0, 'x', BLUE, 0.7),
  sc('1056fps_2', tl_1056fps_2, 0, 'p', BLUE, 0.85),
  sc('20kfps_1', tl_20kfps_1, 0, 'x', RED, 0.8),
  sc('20kfps_2', tl_20kfps_2, 0, 'p', RED, 0.9),
  sc('1056fps_1', tm_1056fps_1, 1, 'x', BLUE, 0.7),
  sc('1056fps_2', tm_1056fps_2, 1, 'p', BLUE, 0.85),
  sc('1056fps_1', tr_1056fps_1, 2, 'x', BLUE, 0.7),
  sc('1056fps_2', tr_1056fps_2, 2, 'p', BLUE, 0.85),
  sc('20kfps_1', tr_20kfps_1, 2, 'x', RED, 0.8),
  sc('20kfps_2', tr_20kfps_2, 2, 'p', RED, 0.9),
  sc('20kfps_3', tr_20kfps_3, 2, 'o', RED, 0.7),
  sc('1056fps_1', bl_1056fps_1, 3, 'x', BLUE, 0.7),
  sc('1056fps_2', bl_1056fps_2, 3, 'p', BLUE, 0.85),
  sc('20kfps_1', bl_20kfps_1, 3, 'x', RED, 0.8),
  sc('20kfps_2', bl_20kfps_2, 3, 'p', RED, 0.9),
  sc('1056fps_1', bm_1056fps_1, 4, 'x', BLUE, 0.7),
  sc('1056fps_2', bm_1056fps_2, 4, 'p', BLUE, 0.85),
  sc('1056fps_1', br_1056fps_1, 5, 'x', BLUE, 0.7),
  sc('1056fps_2', br_1056fps_2, 5, 'p', BLUE, 0.85),
  sc('1056fps_3', br_1056fps_3, 5, 'o', BLUE, 0.7)
];
const legendNames = [
  ['1056fps_1','1056fps_2','20kfps_1','20kfps_2'],
  ['1056fps_1','1056fps_2'],
  ['1056fps_1','1056fps_2','20kfps_1','20kfps_2','20kfps_3'],
  ['1056fps_1','1056fps_2','20kfps_1','20kfps_2'],
  ['1056fps_1','1056fps_2'],
  ['1056fps_1','1056fps_2','1056fps_3']
];

const AXC = '#b0b0b0', TXC = '#404040';
const xAxes = grids.map((g, i) => ({
  type:'value', gridIndex:i, min:0, max:xMax[i], interval:xInterval[i],
  name:xName, nameLocation:'middle', nameGap:27,
  nameTextStyle:{fontSize:15.5, color:TXC, fontFamily:FONT},
  axisLine:{show:true, lineStyle:{color:AXC, width:1}},
  axisTick:{show:true, inside:true, length:3, lineStyle:{color:'#8a8a8a'}},
  axisLabel:{show:true, fontSize:13.5, color:TXC, margin:8, fontFamily:FONT, showMaxLabel:false},
  splitLine:{show:false}
}));
const yAxes = grids.map((g, i) => ({
  type:'value', gridIndex:i, min:0, max:yMax, interval:yInterval,
  name:yName, nameLocation:'middle', nameGap:31,
  nameTextStyle:{fontSize:15.5, color:TXC, fontFamily:FONT},
  axisLine:{show:true, lineStyle:{color:AXC, width:1}},
  axisTick:{show:true, inside:true, length:3, lineStyle:{color:'#8a8a8a'}},
  axisLabel:{show:true, fontSize:13.5, color:TXC, margin:5, fontFamily:FONT, showMaxLabel:false},
  splitLine:{show:false}
}));

const option = {
  animation:false,
  backgroundColor:'#ffffff',
  title: titles.map((t, i) => ({
    text:t, left:titlePos[i][0], top:titlePos[i][1], textAlign:'center', textVerticalAlign:'middle', padding:0,
    textStyle:{fontSize:15.5, fontWeight:'bold', color:'#000', fontFamily:FONT}
  })),
  grid: grids.map(g => Object.assign({containLabel:false}, g)),
  xAxis: xAxes,
  yAxis: yAxes,
  legend: legendCfg.map((c, i) => ({
    show:true, orient:'vertical', left:c.left, top:c.top, padding:c.padding, itemGap:c.itemGap,
    data: legendNames[i], itemWidth:22, itemHeight:7, symbolKeepAspect:true,
    borderColor:'#5a5a5a', borderWidth:1, backgroundColor:'#fff', borderRadius:0,
    selectedMode:false,
    itemStyle:{borderWidth:1},
    textStyle:{fontSize:c.fontSize, lineHeight:c.lineHeight, color:'#1a1a1a', fontFamily:FONT}
  })),
  series: seriesList
};
const chart = echarts.init(document.getElementById('c'), null, {renderer:'canvas'});
chart.setOption(option);
</script></body></html>
